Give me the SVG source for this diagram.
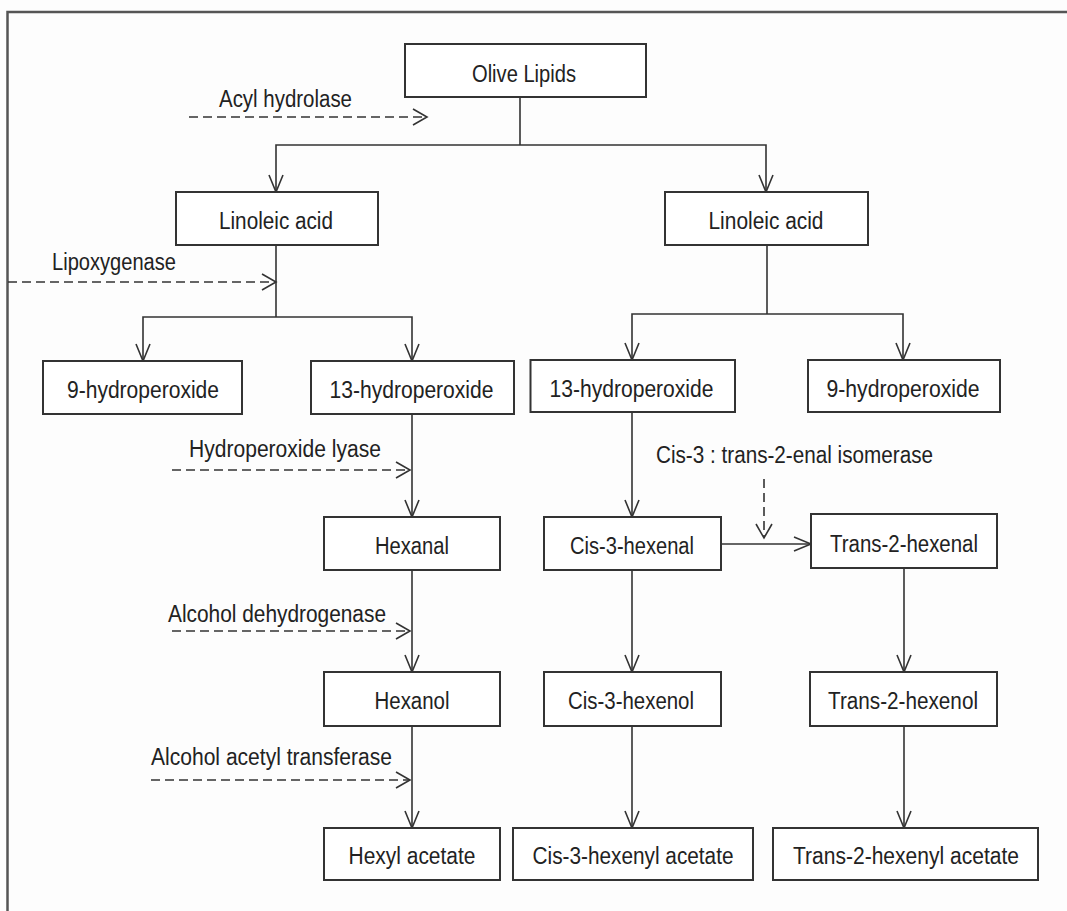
<svg xmlns="http://www.w3.org/2000/svg" width="1067" height="911" viewBox="0 0 1067 911">
  <style>
    .box { fill: #ffffff; stroke: #333333; stroke-width: 2; }
    .lbl { font-family: "Liberation Sans", Arial, sans-serif; font-size: 23px; fill: #222222; }
    .mid { text-anchor: middle; }
    .link { fill: none; stroke: #333333; stroke-width: 1.6; }
    .flow { fill: none; stroke: #333333; stroke-width: 1.6; marker-end: url(#open); }
    .enz { fill: none; stroke: #333333; stroke-width: 1.6; stroke-dasharray: 9 5; marker-end: url(#chev); }
    .frame { fill: none; stroke: #555555; stroke-width: 2.5; }
  </style>
  <defs>
    <marker id="open" markerUnits="userSpaceOnUse" markerWidth="20" markerHeight="18" viewBox="0 0 20 18" refX="18" refY="9" orient="auto">
      <path d="M1,2 L18,9 L1,16" fill="none" stroke="#333333" stroke-width="1.6"/>
    </marker>
    <marker id="chev" markerUnits="userSpaceOnUse" markerWidth="18" markerHeight="20" viewBox="0 0 18 20" refX="16" refY="10" orient="auto">
      <path d="M2,2 L16,10 L2,18" fill="none" stroke="#333333" stroke-width="1.6" stroke-dasharray="none"/>
    </marker>
  </defs>

  <rect x="0" y="0" width="1067" height="911" fill="#fdfdfd"/>
  <!-- page frame: top and left edges -->
  <path class="frame" d="M7.5,911 L7.5,12 L1067,12"/>

  <!-- connectors -->
  <g id="connectors">
    <!-- olive lipids split -->
    <path class="link" d="M520,97 L520,145"/>
    <path class="flow" d="M520,145 L276,145 L276,192"/>
    <path class="flow" d="M520,145 L766,145 L766,192"/>
    <!-- left linoleic split -->
    <path class="link" d="M276,245 L276,317"/>
    <path class="flow" d="M276,317 L143,317 L143,361"/>
    <path class="flow" d="M276,317 L412,317 L412,361"/>
    <!-- right linoleic split -->
    <path class="link" d="M767,245 L767,314"/>
    <path class="flow" d="M767,314 L632,314 L632,360"/>
    <path class="flow" d="M767,314 L903,314 L903,360"/>
    <!-- left chain -->
    <path class="flow" d="M412,414 L412,517"/>
    <path class="flow" d="M412,570 L412,672"/>
    <path class="flow" d="M412,726 L412,828"/>
    <!-- middle chain -->
    <path class="flow" d="M632,412 L632,517"/>
    <path class="flow" d="M632,570 L632,672"/>
    <path class="flow" d="M632,726 L632,828"/>
    <!-- right chain -->
    <path class="flow" d="M721,544 L811,544"/>
    <path class="flow" d="M904,568 L904,672"/>
    <path class="flow" d="M904,726 L904,828"/>
    <!-- enzyme arrows -->
    <path class="enz" d="M189,117 L427,117"/>
    <path class="enz" d="M8,282 L276,282"/>
    <path class="enz" d="M172,470 L410,470"/>
    <path class="enz" d="M172,631 L410,631"/>
    <path class="enz" d="M151,780 L410,780"/>
    <path class="enz" d="M764,479 L764,538"/>
  </g>

  <!-- enzyme labels -->
  <g id="enzymes">
    <text class="lbl" x="219" y="107" textLength="133" lengthAdjust="spacingAndGlyphs">Acyl hydrolase</text>
    <text class="lbl" x="52" y="270" textLength="124" lengthAdjust="spacingAndGlyphs">Lipoxygenase</text>
    <text class="lbl" x="189" y="457" textLength="192" lengthAdjust="spacingAndGlyphs">Hydroperoxide  lyase</text>
    <text class="lbl" x="656" y="463" textLength="277" lengthAdjust="spacingAndGlyphs">Cis-3 : trans-2-enal  isomerase</text>
    <text class="lbl" x="168" y="622" textLength="218" lengthAdjust="spacingAndGlyphs">Alcohol dehydrogenase</text>
    <text class="lbl" x="151" y="765" textLength="241" lengthAdjust="spacingAndGlyphs">Alcohol acetyl transferase</text>
  </g>

  <g id="olive-lipids">
    <rect class="box" x="405" y="44" width="241" height="53"/>
    <text class="lbl mid" x="524" y="82" textLength="104" lengthAdjust="spacingAndGlyphs">Olive Lipids</text>
  </g>
  <g id="linoleic-left">
    <rect class="box" x="176" y="192" width="202" height="53"/>
    <text class="lbl mid" x="276" y="229" textLength="114" lengthAdjust="spacingAndGlyphs">Linoleic acid</text>
  </g>
  <g id="linoleic-right">
    <rect class="box" x="665" y="192" width="203" height="53"/>
    <text class="lbl mid" x="766" y="229" textLength="115" lengthAdjust="spacingAndGlyphs">Linoleic acid</text>
  </g>
  <g id="hydroperoxide9-left">
    <rect class="box" x="43" y="361" width="199" height="53"/>
    <text class="lbl mid" x="143" y="398" textLength="152" lengthAdjust="spacingAndGlyphs">9-hydroperoxide</text>
  </g>
  <g id="hydroperoxide13-left">
    <rect class="box" x="311" y="361" width="203" height="53"/>
    <text class="lbl mid" x="411.5" y="398" textLength="164" lengthAdjust="spacingAndGlyphs">13-hydroperoxide</text>
  </g>
  <g id="hydroperoxide13-right">
    <rect class="box" x="530.5" y="360" width="204.5" height="52"/>
    <text class="lbl mid" x="631.5" y="397" textLength="164" lengthAdjust="spacingAndGlyphs">13-hydroperoxide</text>
  </g>
  <g id="hydroperoxide9-right">
    <rect class="box" x="808" y="360" width="192" height="52"/>
    <text class="lbl mid" x="903" y="397" textLength="153" lengthAdjust="spacingAndGlyphs">9-hydroperoxide</text>
  </g>
  <g id="hexanal">
    <rect class="box" x="324" y="517" width="176" height="53"/>
    <text class="lbl mid" x="412" y="554" textLength="74" lengthAdjust="spacingAndGlyphs">Hexanal</text>
  </g>
  <g id="cis3-hexenal">
    <rect class="box" x="544" y="517" width="177" height="53"/>
    <text class="lbl mid" x="632" y="554" textLength="124" lengthAdjust="spacingAndGlyphs">Cis-3-hexenal</text>
  </g>
  <g id="trans2-hexenal">
    <rect class="box" x="811" y="514" width="186" height="54"/>
    <text class="lbl mid" x="904" y="552" textLength="148" lengthAdjust="spacingAndGlyphs">Trans-2-hexenal</text>
  </g>
  <g id="hexanol">
    <rect class="box" x="324" y="672" width="176" height="54"/>
    <text class="lbl mid" x="412" y="709" textLength="75" lengthAdjust="spacingAndGlyphs">Hexanol</text>
  </g>
  <g id="cis3-hexenol">
    <rect class="box" x="544" y="672" width="177" height="54"/>
    <text class="lbl mid" x="631" y="709" textLength="126" lengthAdjust="spacingAndGlyphs">Cis-3-hexenol</text>
  </g>
  <g id="trans2-hexenol">
    <rect class="box" x="810" y="672" width="187" height="54"/>
    <text class="lbl mid" x="903" y="709" textLength="150" lengthAdjust="spacingAndGlyphs">Trans-2-hexenol</text>
  </g>
  <g id="hexyl-acetate">
    <rect class="box" x="324" y="828" width="176" height="52"/>
    <text class="lbl mid" x="412" y="864" textLength="127" lengthAdjust="spacingAndGlyphs">Hexyl acetate</text>
  </g>
  <g id="cis3-hexenyl-acetate">
    <rect class="box" x="513" y="828" width="240" height="52"/>
    <text class="lbl mid" x="633" y="864" textLength="201" lengthAdjust="spacingAndGlyphs">Cis-3-hexenyl acetate</text>
  </g>
  <g id="trans2-hexenyl-acetate">
    <rect class="box" x="773" y="828" width="265" height="52"/>
    <text class="lbl mid" x="906" y="864" textLength="226" lengthAdjust="spacingAndGlyphs">Trans-2-hexenyl acetate</text>
  </g>
</svg>
